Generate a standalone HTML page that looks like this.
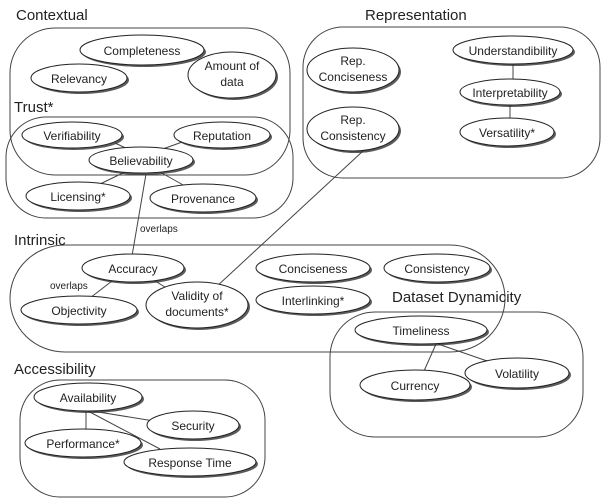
<!DOCTYPE html>
<html><head><meta charset="utf-8"><style>
html,body{margin:0;padding:0;background:#fff;}
svg{display:block;}
text{font-family:"Liberation Sans",Arial,sans-serif;fill:#222;}
.t{font-size:12px;text-anchor:middle;}
.h{font-size:15px;}
.s{font-size:10px;}
.b{fill:none;stroke:#444;stroke-width:1;}
.l{stroke:#444;stroke-width:1;fill:none;}
.e{fill:#fff;stroke:#222;stroke-width:1;}
.sh{fill:#333;opacity:.8;}
</style></head><body>
<svg width="606" height="502" viewBox="0 0 606 502" xmlns="http://www.w3.org/2000/svg">
<rect class="b" x="10" y="28" width="280" height="147" rx="45"/>
<rect class="b" x="6" y="117" width="287" height="101" rx="40"/>
<rect class="b" x="303" y="27" width="297" height="151" rx="40"/>
<rect class="b" x="10" y="245" width="495" height="107" rx="55"/>
<rect class="b" x="330" y="312" width="253" height="125" rx="45"/>
<rect class="b" x="20" y="380" width="245" height="117" rx="40"/>
<text class="h" x="16" y="20">Contextual</text>
<text class="h" x="14" y="112">Trust*</text>
<text class="h" x="365" y="20">Representation</text>
<text class="h" x="14" y="245">Intrinsic</text>
<text class="h" x="392" y="302">Dataset Dynamicity</text>
<text class="h" x="14" y="374">Accessibility</text>
<text class="s" x="140" y="232">overlaps</text>
<text class="s" x="50" y="289">overlaps</text>
<line class="l" x1="115" y1="143" x2="130" y2="150"/>
<line class="l" x1="185" y1="141" x2="160" y2="150"/>
<line class="l" x1="125" y1="172" x2="100" y2="184"/>
<line class="l" x1="160" y1="172" x2="185" y2="186"/>
<line class="l" x1="146" y1="174" x2="132" y2="256"/>
<line class="l" x1="513" y1="64" x2="513" y2="79"/>
<line class="l" x1="510" y1="105" x2="510" y2="119"/>
<line class="l" x1="363" y1="151" x2="215" y2="288"/>
<line class="l" x1="112" y1="281" x2="90" y2="298"/>
<line class="l" x1="155" y1="281" x2="170" y2="290"/>
<line class="l" x1="436" y1="344" x2="424" y2="371"/>
<line class="l" x1="438" y1="344" x2="490" y2="362"/>
<line class="l" x1="86" y1="410" x2="86" y2="430"/>
<line class="l" x1="86" y1="410" x2="160" y2="422"/>
<line class="l" x1="86" y1="410" x2="160" y2="449"/>
<g>
<ellipse class="sh" cx="144" cy="52" rx="62" ry="15"/><ellipse class="e" cx="142" cy="50" rx="62" ry="15"/><text class="t" x="142" y="55">Completeness</text>
<ellipse class="sh" cx="81" cy="80" rx="48" ry="14"/><ellipse class="e" cx="79" cy="78" rx="48" ry="14"/><text class="t" x="79" y="83">Relevancy</text>
<ellipse class="sh" cx="234" cy="77" rx="44" ry="23"/><ellipse class="e" cx="232" cy="75" rx="44" ry="23"/><text class="t" x="232" y="70">Amount of</text><text class="t" x="232" y="86">data</text>
<ellipse class="sh" cx="74" cy="137" rx="50" ry="13"/><ellipse class="e" cx="72" cy="135" rx="50" ry="13"/><text class="t" x="72" y="140">Verifiability</text>
<ellipse class="sh" cx="224" cy="137" rx="48" ry="13"/><ellipse class="e" cx="222" cy="135" rx="48" ry="13"/><text class="t" x="222" y="140">Reputation</text>
<ellipse class="sh" cx="143" cy="162" rx="52" ry="13"/><ellipse class="e" cx="141" cy="160" rx="52" ry="13"/><text class="t" x="141" y="165">Believability</text>
<ellipse class="sh" cx="80" cy="198" rx="52" ry="14"/><ellipse class="e" cx="78" cy="196" rx="52" ry="14"/><text class="t" x="78" y="201">Licensing*</text>
<ellipse class="sh" cx="205" cy="200" rx="53" ry="14"/><ellipse class="e" cx="203" cy="198" rx="53" ry="14"/><text class="t" x="203" y="203">Provenance</text>
<ellipse class="sh" cx="355" cy="72" rx="46" ry="22"/><ellipse class="e" cx="353" cy="70" rx="46" ry="22"/><text class="t" x="353" y="65">Rep.</text><text class="t" x="353" y="81">Conciseness</text>
<ellipse class="sh" cx="515" cy="52" rx="60" ry="14"/><ellipse class="e" cx="513" cy="50" rx="60" ry="14"/><text class="t" x="513" y="55">Understandibility</text>
<ellipse class="sh" cx="512" cy="94" rx="50" ry="13"/><ellipse class="e" cx="510" cy="92" rx="50" ry="13"/><text class="t" x="510" y="97">Interpretability</text>
<ellipse class="sh" cx="509" cy="134" rx="47" ry="14"/><ellipse class="e" cx="507" cy="132" rx="47" ry="14"/><text class="t" x="507" y="137">Versatility*</text>
<ellipse class="sh" cx="355" cy="131" rx="46" ry="22"/><ellipse class="e" cx="353" cy="129" rx="46" ry="22"/><text class="t" x="353" y="124">Rep.</text><text class="t" x="353" y="140">Consistency</text>
<ellipse class="sh" cx="135" cy="270" rx="51" ry="14"/><ellipse class="e" cx="133" cy="268" rx="51" ry="14"/><text class="t" x="133" y="273">Accuracy</text>
<ellipse class="sh" cx="81" cy="312" rx="58" ry="14"/><ellipse class="e" cx="79" cy="310" rx="58" ry="14"/><text class="t" x="79" y="315">Objectivity</text>
<ellipse class="sh" cx="199" cy="307" rx="51" ry="23"/><ellipse class="e" cx="197" cy="305" rx="51" ry="23"/><text class="t" x="197" y="300">Validity of</text><text class="t" x="197" y="316">documents*</text>
<ellipse class="sh" cx="315" cy="270" rx="57" ry="14"/><ellipse class="e" cx="313" cy="268" rx="57" ry="14"/><text class="t" x="313" y="273">Conciseness</text>
<ellipse class="sh" cx="439" cy="270" rx="53" ry="14"/><ellipse class="e" cx="437" cy="268" rx="53" ry="14"/><text class="t" x="437" y="273">Consistency</text>
<ellipse class="sh" cx="315" cy="302" rx="57" ry="14"/><ellipse class="e" cx="313" cy="300" rx="57" ry="14"/><text class="t" x="313" y="305">Interlinking*</text>
<ellipse class="sh" cx="423" cy="332" rx="66" ry="14"/><ellipse class="e" cx="421" cy="330" rx="66" ry="14"/><text class="t" x="421" y="335">Timeliness</text>
<ellipse class="sh" cx="417" cy="387" rx="55" ry="15"/><ellipse class="e" cx="415" cy="385" rx="55" ry="15"/><text class="t" x="415" y="390">Currency</text>
<ellipse class="sh" cx="519" cy="375" rx="52" ry="15"/><ellipse class="e" cx="517" cy="373" rx="52" ry="15"/><text class="t" x="517" y="378">Volatility</text>
<ellipse class="sh" cx="90" cy="399" rx="54" ry="14"/><ellipse class="e" cx="88" cy="397" rx="54" ry="14"/><text class="t" x="88" y="402">Availability</text>
<ellipse class="sh" cx="195" cy="427" rx="46" ry="14"/><ellipse class="e" cx="193" cy="425" rx="46" ry="14"/><text class="t" x="193" y="430">Security</text>
<ellipse class="sh" cx="85" cy="445" rx="58" ry="14"/><ellipse class="e" cx="83" cy="443" rx="58" ry="14"/><text class="t" x="83" y="448">Performance*</text>
<ellipse class="sh" cx="192" cy="464" rx="66" ry="14"/><ellipse class="e" cx="190" cy="462" rx="66" ry="14"/><text class="t" x="190" y="467">Response Time</text>
</g>
</svg>
</body></html>
